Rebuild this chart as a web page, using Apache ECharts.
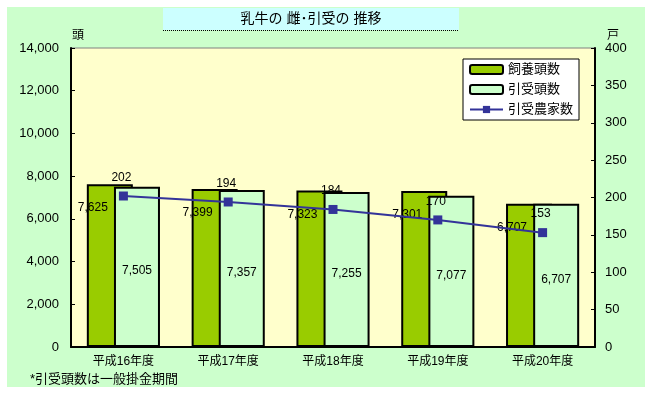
<!DOCTYPE html>
<html><head><meta charset="utf-8">
<script src="https://cdn.jsdelivr.net/npm/echarts@6/dist/echarts.min.js"></script>
<style>html,body{margin:0;padding:0;background:#fff}#c{width:651px;height:395px}</style>
</head><body><div id="c"></div>
<script>
const categories = ['平成16年度','平成17年度','平成18年度','平成19年度','平成20年度'];
const shiyouTousu = [7625, 7399, 7323, 7301, 6707];
const hikiukeTousu = [7505, 7357, 7255, 7077, 6707];
const hikiukeNoka = [202, 194, 184, 170, 153];
const leftTicks = {min: 0, max: 14000, interval: 2000};
const rightTicks = {min: 0, max: 400, interval: 50};

const FONT = '"Liberation Sans", "Noto Sans CJK JP", sans-serif';
const chart = echarts.init(document.getElementById('c'));
chart.setOption({
  animation: false,
  textStyle: {fontFamily: FONT, color: '#000'},
  graphic: [
    {type: 'rect', z: -10, shape: {x: 7, y: 7, width: 638, height: 380}, style: {fill: '#ccffcc'}, silent: true},
    {type: 'rect', z: 10, shape: {x: 163, y: 8, width: 296, height: 22}, style: {fill: '#ccffff'}},
    {type: 'line', z: 11, shape: {x1: 163, y1: 30.5, x2: 459, y2: 30.5}, style: {stroke: '#000', lineWidth: 1, lineDash: [1, 1]}},
    {type: 'text', z: 12, x: 311, y: 19, style: {text: '乳牛の 雌･引受の 推移', font: '14px ' + FONT, fill: '#000', textAlign: 'center', textVerticalAlign: 'middle'}},
    {type: 'text', z: 12, x: 72, y: 36, style: {text: '頭', font: '12px ' + FONT, fill: '#000', textAlign: 'left', textVerticalAlign: 'middle'}},
    {type: 'text', z: 12, x: 613, y: 36, style: {text: '戸', font: '12px ' + FONT, fill: '#000', textAlign: 'center', textVerticalAlign: 'middle'}},
    {type: 'text', z: 12, x: 30, y: 379, style: {text: '*引受頭数は一般掛金期間', font: '13px ' + FONT, fill: '#000', textAlign: 'left', textVerticalAlign: 'middle'}}
  ],
  legend: {
    orient: 'vertical', left: 463, top: 59,
    backgroundColor: '#fff', borderColor: '#000', borderWidth: 1,
    padding: [4, 6, 4, 6], itemGap: 7, itemWidth: 33, itemHeight: 9,
    textStyle: {fontSize: 13, color: '#000', fontFamily: FONT},
    data: ['飼養頭数', '引受頭数', '引受農家数']
  },
  grid: {left: 71, right: 56, top: 48, bottom: 48, show: true, backgroundColor: '#ffffcc', borderColor: '#808080', borderWidth: 1},
  xAxis: {
    type: 'category', data: categories,
    axisLine: {lineStyle: {color: '#000', width: 2}},
    axisTick: {inside: true, length: 4, lineStyle: {color: '#000'}},
    axisLabel: {fontSize: 12, color: '#000', margin: 9, fontFamily: FONT}
  },
  yAxis: [
    {
      type: 'value', min: leftTicks.min, max: leftTicks.max, interval: leftTicks.interval,
      axisLine: {show: true, lineStyle: {color: '#000', width: 2}},
      axisTick: {show: true, inside: true, length: 4, lineStyle: {color: '#000'}},
      splitLine: {show: false},
      axisLabel: {fontSize: 13, color: '#000', margin: 12, fontFamily: FONT,
        formatter: v => v.toLocaleString('en-US')}
    },
    {
      type: 'value', min: rightTicks.min, max: rightTicks.max, interval: rightTicks.interval,
      position: 'right',
      axisLine: {show: true, lineStyle: {color: '#000', width: 2}},
      axisTick: {show: true, inside: true, length: 4, lineStyle: {color: '#000'}},
      splitLine: {show: false},
      axisLabel: {fontSize: 13, color: '#000', margin: 10, fontFamily: FONT}
    }
  ],
  series: [
    {
      name: '飼養頭数', type: 'bar', data: shiyouTousu, barWidth: 46, barGap: '-41%',
      itemStyle: {color: '#99cc00', borderColor: '#000', borderWidth: 2},
      label: {show: true, position: [6, 24], align: 'center', verticalAlign: 'middle',
        fontSize: 12, color: '#000', fontFamily: FONT,
        formatter: p => p.value.toLocaleString('en-US')}
    },
    {
      name: '引受頭数', type: 'bar', data: hikiukeTousu, barWidth: 46,
      itemStyle: {color: '#ccffcc', borderColor: '#000', borderWidth: 2},
      label: {show: true, position: 'inside', offset: [0, 4],
        fontSize: 12, color: '#000', fontFamily: FONT,
        formatter: p => p.value.toLocaleString('en-US')}
    },
    {
      name: '引受農家数', type: 'line', yAxisIndex: 1, data: hikiukeNoka,
      symbol: 'rect', symbolSize: 9,
      lineStyle: {color: '#333399', width: 2},
      itemStyle: {color: '#333399'},
      z: 5,
      label: {show: true, position: 'top', distance: 8, offset: [-2, 0],
        fontSize: 12, color: '#000', fontFamily: FONT}
    }
  ]
});
</script></body></html>
